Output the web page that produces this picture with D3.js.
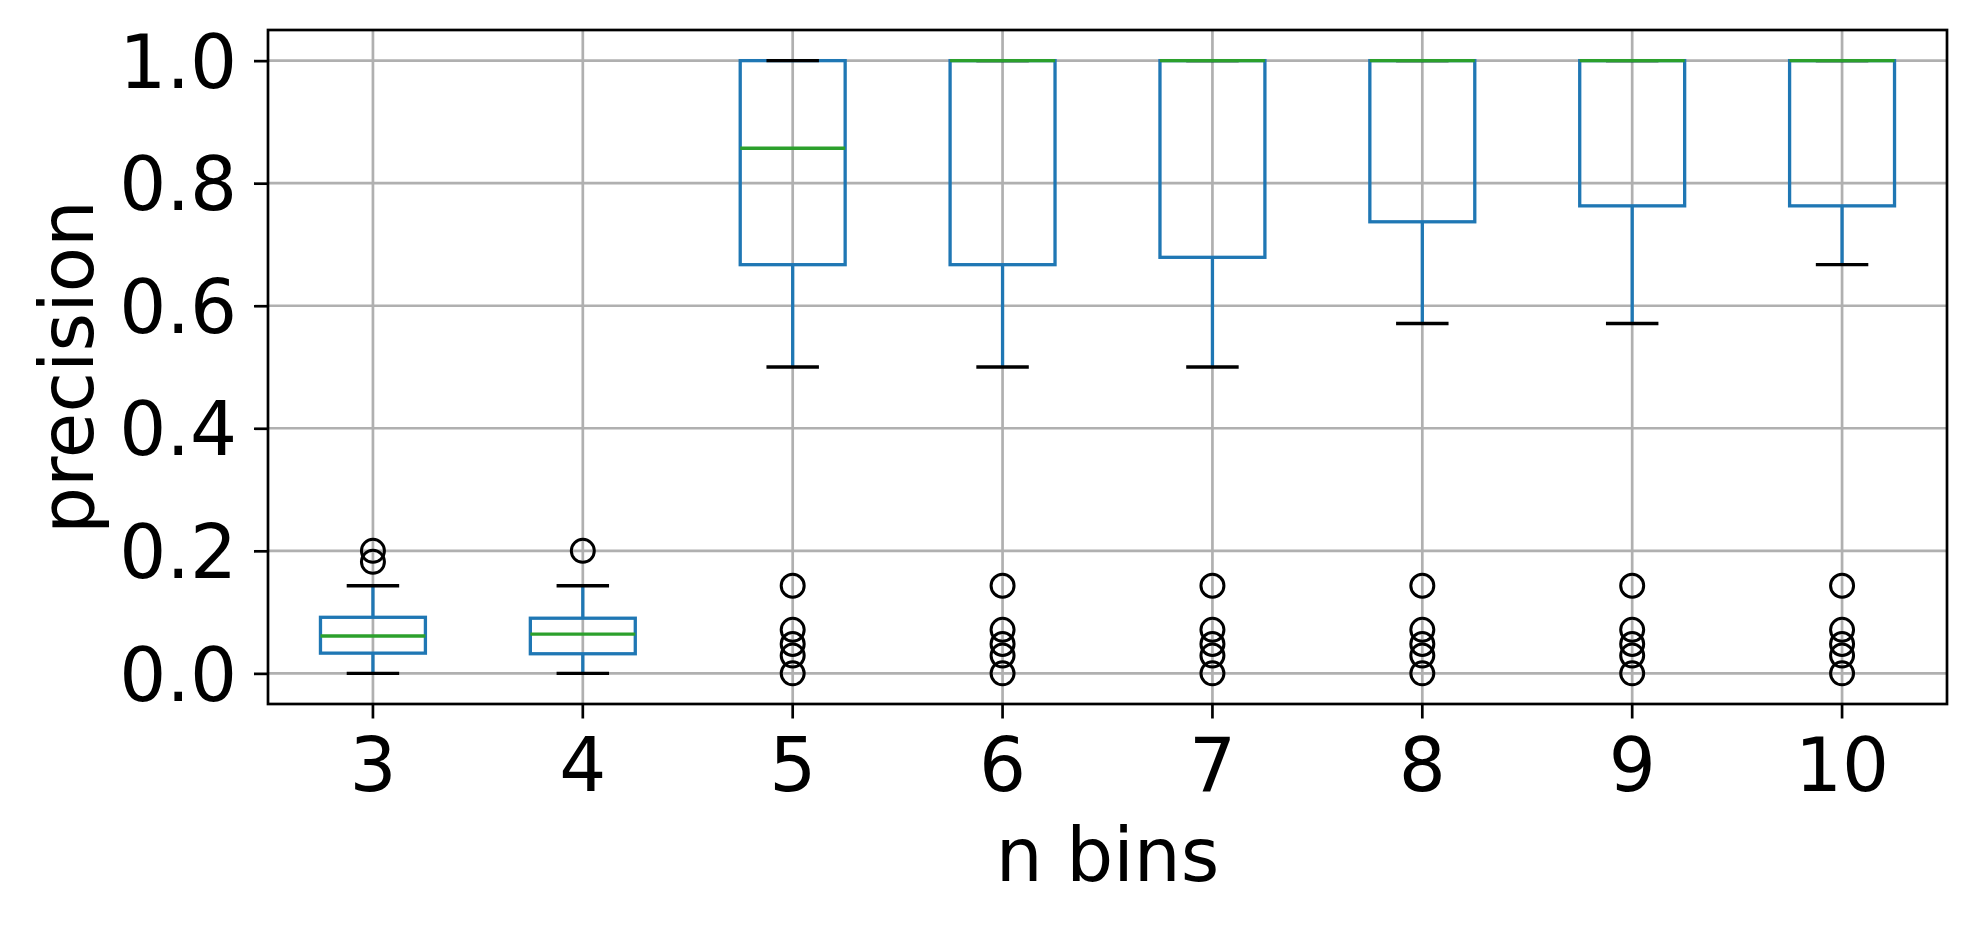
<!DOCTYPE html>
<html>
<head>
<meta charset="utf-8">
<script src="https://cdn.jsdelivr.net/npm/d3@7"></script>
<style>
  html, body { margin: 0; padding: 0; background: #fff; }
  svg { display: block; }
  text { font-family: "DejaVu Sans", sans-serif; }
</style>
</head>
<body>
<svg id="chart" width="1978" height="926"></svg>
<script>
// ---- data ----
const categories = ["3", "4", "5", "6", "7", "8", "9", "10"];
const q1 = [0.033, 0.032, 0.667, 0.667, 0.679, 0.737, 0.763, 0.763];
const medians = [0.061, 0.064, 0.857, 1.0, 1.0, 1.0, 1.0, 1.0];
const q3 = [0.0915, 0.090, 1.0, 1.0, 1.0, 1.0, 1.0, 1.0];
const whiskerLow = [0.0, 0.0, 0.5, 0.5, 0.5, 0.571, 0.571, 0.667];
const whiskerHigh = [0.143, 0.143, 1.0, 1.0, 1.0, 1.0, 1.0, 1.0];
const outliers = [
  [0.2, 0.182],
  [0.2],
  [0.143, 0.071, 0.048, 0.029, 0.0],
  [0.143, 0.071, 0.048, 0.029, 0.0],
  [0.143, 0.071, 0.048, 0.029, 0.0],
  [0.143, 0.071, 0.048, 0.029, 0.0],
  [0.143, 0.071, 0.048, 0.029, 0.0],
  [0.143, 0.071, 0.048, 0.029, 0.0]
];
const yTicks = [0.0, 0.2, 0.4, 0.6, 0.8, 1.0];
const xLabel = "n bins";
const yLabel = "precision";

// ---- layout ----
const mLeft = 268, mRight = 1947, mTop = 30, mBottom = 704;
const FS = 74;
const boxColor = "#1f77b4", medColor = "#2ca02c", gridColor = "#b0b0b0";
const lwBox = 3.3, lwGrid = 2.7, lwSpine = 2.7;

const svg = d3.select("#chart");
const x = d3.scaleBand().domain(categories).range([mLeft, mRight]).padding(0);
const bw = x.bandwidth();
const cx = c => x(c) + bw / 2;
const y = d3.scaleLinear().domain([-0.05, 1.05]).range([mBottom, mTop]);

const rows = categories.map((c, i) => ({
  c, q1: q1[i], med: medians[i], q3: q3[i], lo: whiskerLow[i], hi: whiskerHigh[i], out: outliers[i]
}));

// grid
const grid = svg.append("g");
grid.selectAll("line.gy").data(yTicks).join("line")
  .attr("x1", mLeft).attr("x2", mRight)
  .attr("y1", d => y(d)).attr("y2", d => y(d))
  .attr("stroke", gridColor).attr("stroke-width", lwGrid);
grid.selectAll("line.gx").data(categories).join("line")
  .attr("x1", d => cx(d)).attr("x2", d => cx(d))
  .attr("y1", mTop).attr("y2", mBottom)
  .attr("stroke", gridColor).attr("stroke-width", lwGrid);

const plot = svg.append("g");
const g = plot.selectAll("g.box").data(rows).join("g");

// boxes
const boxW = bw * 0.5;
g.append("rect")
  .attr("x", d => cx(d.c) - boxW / 2).attr("width", boxW)
  .attr("y", d => y(d.q3)).attr("height", d => y(d.q1) - y(d.q3))
  .attr("fill", "none").attr("stroke", boxColor).attr("stroke-width", lwBox);
// whiskers
g.append("line")
  .attr("x1", d => cx(d.c)).attr("x2", d => cx(d.c))
  .attr("y1", d => y(d.q1)).attr("y2", d => y(d.lo))
  .attr("stroke", boxColor).attr("stroke-width", lwBox);
g.append("line")
  .attr("x1", d => cx(d.c)).attr("x2", d => cx(d.c))
  .attr("y1", d => y(d.q3)).attr("y2", d => y(d.hi))
  .attr("stroke", boxColor).attr("stroke-width", lwBox);
// caps
const capW = bw * 0.25;
["lo", "hi"].forEach(k => {
  g.append("line")
    .attr("x1", d => cx(d.c) - capW / 2).attr("x2", d => cx(d.c) + capW / 2)
    .attr("y1", d => y(d[k])).attr("y2", d => y(d[k]))
    .attr("stroke", "#000").attr("stroke-width", lwBox);
});
// medians
g.append("line")
  .attr("x1", d => cx(d.c) - boxW / 2).attr("x2", d => cx(d.c) + boxW / 2)
  .attr("y1", d => y(d.med)).attr("y2", d => y(d.med))
  .attr("stroke", medColor).attr("stroke-width", lwBox);
// fliers
g.selectAll("circle").data(d => d.out.map(v => ({ c: d.c, v }))).join("circle")
  .attr("cx", d => cx(d.c)).attr("cy", d => y(d.v)).attr("r", 11.5)
  .attr("fill", "none").attr("stroke", "#000").attr("stroke-width", 3);

// axes
const yAxis = d3.axisLeft(y).tickValues(yTicks).tickFormat(d3.format(".1f"))
  .tickSize(14).tickPadding(17);
const ya = svg.append("g").attr("transform", `translate(${mLeft},0)`).call(yAxis);
const xAxis = d3.axisBottom(x).tickSize(14.5).tickPadding(20);
const xa = svg.append("g").attr("transform", `translate(0,${mBottom})`).call(xAxis);
[ya, xa].forEach(a => {
  a.select(".domain").remove();
  a.attr("font-size", FS).attr("font-family", "DejaVu Sans, sans-serif");
  a.selectAll(".tick line").attr("stroke", "#000").attr("stroke-width", lwSpine);
  a.selectAll(".tick text").attr("fill", "#000");
});
ya.selectAll(".tick text").attr("dy", "0.36em");

// frame
svg.append("rect")
  .attr("x", mLeft).attr("y", mTop).attr("width", mRight - mLeft).attr("height", mBottom - mTop)
  .attr("fill", "none").attr("stroke", "#000").attr("stroke-width", lwSpine);

// labels
svg.append("text").attr("x", (mLeft + mRight) / 2).attr("y", 881)
  .attr("text-anchor", "middle").attr("font-size", FS).attr("fill", "#000").text(xLabel);
svg.append("text").attr("transform", `translate(93,${(mTop + mBottom) / 2}) rotate(-90)`)
  .attr("text-anchor", "middle").attr("font-size", FS).attr("fill", "#000").text(yLabel);
</script>
</body>
</html>
